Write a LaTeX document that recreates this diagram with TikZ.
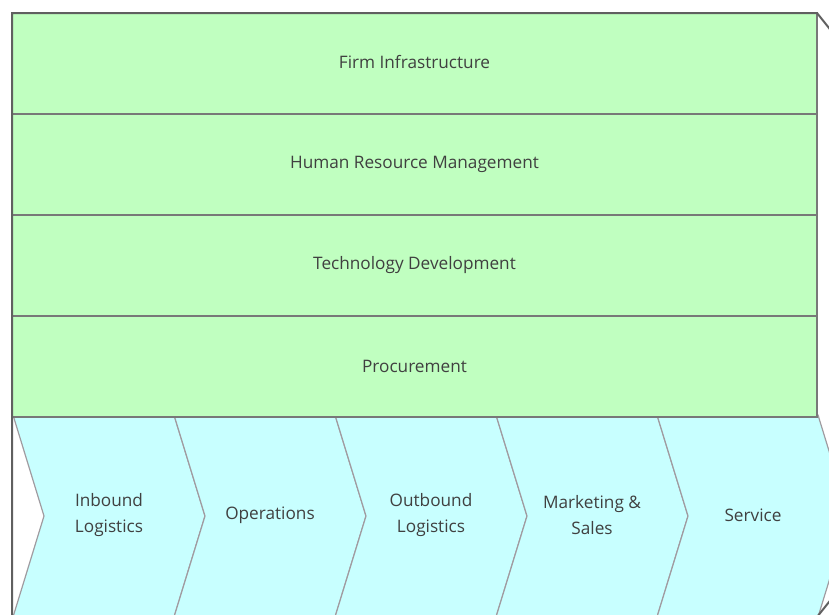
\documentclass[tikz,border=0pt]{standalone}
\usepackage{fontspec}
\setmainfont{Open Sans}
\usetikzlibrary{positioning}
\definecolor{bandgreen}{RGB}{192,255,192}
\definecolor{chevcyan}{RGB}{200,255,255}
\definecolor{framegray}{RGB}{96,96,96}
\definecolor{bandline}{RGB}{120,120,120}
\definecolor{chevline}{RGB}{160,155,160}
\definecolor{txtgray}{RGB}{64,64,64}

\begin{document}
\begin{tikzpicture}[x=1pt,y=-1pt,
	every node/.style={font=\fontsize{17.2}{26}\selectfont, text=txtgray, align=center},
	band/.style={draw=bandline, line width=1.2pt, fill=bandgreen, minimum width=805pt, minimum height=101pt, inner sep=0pt, outer sep=0pt},
	chevron/.style={draw=chevline, line width=1.2pt, fill=chevcyan, line join=miter}]
	\useasboundingbox (0,0) rectangle (829,614);
	\clip (0,0) rectangle (829,614);
	% primary activities
	\foreach \x/\name/\lbl in {13/inbound/{Inbound\\Logistics}, 174/operations/{Operations}, 335/outbound/{Outbound\\Logistics}, 496/marketing/{Marketing \&\\Sales}, 657/service/{Service}} {
		\draw[chevron] (\x,415) -- (\x+161,415) -- (\x+192,516) -- (\x+161,617) -- (\x,617) -- (\x+31,516) -- cycle;
		\node (\name) at (\x+96,515) {\lbl};
	}
	% support activities
	\node[band] (infra) at (414.5,63.5) {Firm Infrastructure\vphantom{g}};
	\node[band, below=0pt of infra] (hrm) {Human Resource Management};
	\node[band, below=0pt of hrm] (techdev) {Technology Development};
	\node[band, below=0pt of techdev] (procure) {Procurement};
	% outer frame
	\draw[framegray, line width=2pt, line join=miter] (12,617) -- (12,13) -- (817,13) -- (1058,315) -- (817,617);
\end{tikzpicture}
\end{document}
